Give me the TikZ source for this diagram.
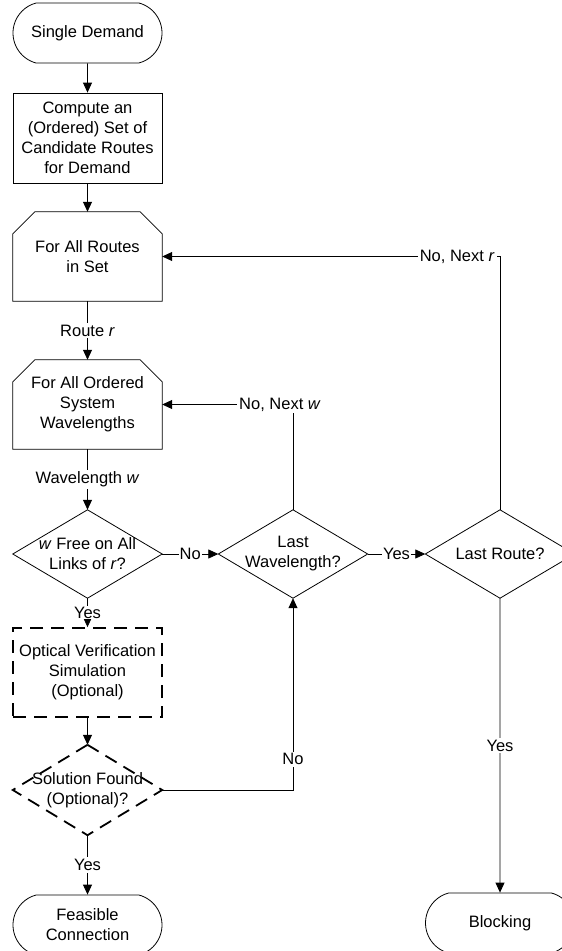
\documentclass[tikz,border=0pt]{standalone}
\usepackage{fontspec}
\setmainfont{Liberation Sans}
\usetikzlibrary{arrows.meta,shapes.misc}
\begin{document}
\begin{tikzpicture}[x=1pt,y=-1pt,
  every node/.style={font=\fontsize{16.5}{20}\selectfont, align=center, inner sep=0pt},
  box/.style={draw, line width=0.8pt, minimum width=149pt, minimum height=90pt},
  term/.style={draw, line width=0.8pt, rounded rectangle, rounded rectangle arc length=150, minimum width=149pt, minimum height=60pt},
  hole/.style={minimum width=149pt, minimum height=88pt},
  lbl/.style={fill=white, inner sep=2pt},
  conn/.style={draw, line width=0.8pt},
  arr/.style={conn, -{Triangle[length=10pt,width=9pt]}},
  dsh/.style={line width=1.8pt, dash pattern=on 13pt off 8pt}]
\useasboundingbox (0,0) rectangle (562,951);
\clip (0,0) rectangle (562,951);

% nodes
\node[term] (start) at (87.5,33) {Single Demand};
\node[box] (compute) at (87.5,138) {Compute an\\(Ordered) Set of\\Candidate Routes\\for Demand};
\node[hole, minimum height=89pt] (routes) at (87.5,256.5) {For All Routes\\in Set};
\node[hole, minimum height=89pt] (wl) at (87.5,404.5) {For All Ordered\\System\\Wavelengths};
\node[hole] (wfree) at (87.5,554) {\textit{w} Free on All\\Links of \textit{r}?};
\node[hole] (lastw) at (293,554) {Last\\Wavelength?};
\node[hole] (lastr) at (500,554) {Last Route?};
\node[box, dsh, minimum height=89pt] (optical) at (87.5,672.5) {Optical Verification\\Simulation\\(Optional)};
\node[hole, minimum height=90pt] (sol) at (87.5,790) {Solution Found\\(Optional)?};
\node[term] (feas) at (87.5,925) {Feasible\\Connection};
\node[term] (block) at (500,923) {Blocking};

% loop-limit outlines
\foreach \n in {routes,wl}{
  \draw[line width=0.8pt] ([yshift=-22pt]\n.north west) -- ([xshift=22pt]\n.north west)
    -- ([xshift=-22pt]\n.north east) -- ([yshift=-22pt]\n.north east)
    -- (\n.south east) -- (\n.south west) -- cycle;
}
% diamonds
\foreach \n in {wfree,lastw,lastr}{
  \draw[line width=0.8pt] (\n.north) -- (\n.east) -- (\n.south) -- (\n.west) -- cycle;
}
\draw[dsh] (sol.north) -- (sol.east) -- (sol.south) -- (sol.west) -- cycle;

% connectors
\draw[arr] (start) -- (compute);
\draw[arr] (compute) -- (routes);
\draw[arr] (routes) -- node[lbl]{Route \textit{r}} (wl);
\draw[arr] (wl) -- node[lbl]{Wavelength \textit{w}} (wfree);
\draw[arr] (wfree) -- node[lbl, inner sep=1pt]{Yes} (optical);
\draw[arr] (optical) -- (sol);
\draw[arr] (sol) -- node[lbl]{Yes} (feas);
\draw[arr] (wfree.east) -- node[lbl, inner sep=1pt]{No} (lastw.west);
\draw[arr] (lastw.east) -- node[lbl, inner sep=1pt]{Yes} (lastr.west);
\draw[arr] (lastw.north) |- node[lbl, pos=0.5, xshift=-13pt]{No, Next \textit{w}} (wl.east);
\draw[arr] (lastr.north) |- node[lbl, pos=0.5, anchor=east, xshift=-3pt]{No, Next \textit{r}} (routes.east);
\draw[arr] (sol.east) -| node[lbl, pos=0.58]{No} (lastw.south);
\draw[arr] (lastr.south) -- node[lbl]{Yes} (block);
\end{tikzpicture}
\end{document}
